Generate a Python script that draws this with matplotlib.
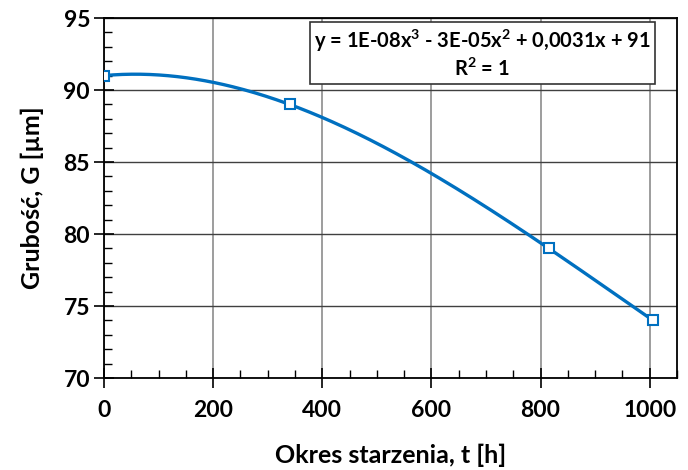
import numpy as np
import matplotlib
matplotlib.use("Agg")
import matplotlib.pyplot as plt
from matplotlib.ticker import MultipleLocator

t_hours = [0, 340, 815, 1006]
thickness = [91, 89, 79, 74]
x_ticks = [0, 200, 400, 600, 800, 1000]
y_ticks = [70, 75, 80, 85, 90, 95]
eq_text = "y = 1E-08x$^3$ - 3E-05x$^2$ + 0,0031x + 91\nR$^2$ = 1"

plt.rcParams['font.family'] = ['Lato', 'DejaVu Sans']
plt.rcParams['mathtext.fontset'] = 'custom'
plt.rcParams['mathtext.rm'] = 'Lato:bold'
plt.rcParams['mathtext.it'] = 'Lato:bold'
plt.rcParams['mathtext.bf'] = 'Lato:bold'

fig = plt.figure(figsize=(6.88, 4.70), dpi=100)
ax = fig.add_axes([104/688, 1-378/470, (677-104)/688, (378-18)/470])

color = '#0070C0'
coef = np.polyfit(t_hours, thickness, 3)
xs = np.linspace(min(t_hours), max(t_hours), 300)
ax.plot(xs, np.polyval(coef, xs), color=color, lw=2.4, zorder=3)
ax.plot(t_hours, thickness, linestyle='none', marker='s', ms=7, mfc='white',
        mec=color, mew=1.5, zorder=4)

ax.set_xlim(0, 1050)
ax.set_ylim(70, 95)
ax.set_xticks(x_ticks)
ax.set_yticks(y_ticks)
ax.xaxis.set_minor_locator(MultipleLocator(50))
ax.yaxis.set_minor_locator(MultipleLocator(1))
ax.tick_params(which='major', direction='inout', length=14, width=1.2, labelsize=16.5, pad=3)
ax.tick_params(axis='x', which='major', pad=9)
ax.tick_params(which='minor', direction='in', length=6, width=1.0)
for lab in ax.get_xticklabels() + ax.get_yticklabels():
    lab.set_fontweight('bold')
ax.tick_params(axis='x', which='minor', top=False)
ax.tick_params(axis='y', which='minor', right=False)

ax.grid(axis='y', which='major', color='#404040', lw=1.0)
ax.grid(axis='x', which='major', color='#8c8c8c', lw=1.2)
ax.set_axisbelow(True)
for s in ax.spines.values():
    s.set_color('black')
    s.set_linewidth(1.3)

ax.set_xlabel('Okres starzenia, t [h]', fontsize=18, fontweight='bold', labelpad=16)
ax.set_ylabel('Grubość, G [µm]', fontsize=18, fontweight='bold', labelpad=14)

ax.text(0.66, 0.9, eq_text, transform=ax.transAxes, ha='center', va='center',
        fontsize=14.5, fontweight='bold', linespacing=1.2,
        bbox=dict(boxstyle='square,pad=0.2', fc='white', ec='#333333', lw=1.2), zorder=5)

fig.savefig('out.png', dpi=100)
